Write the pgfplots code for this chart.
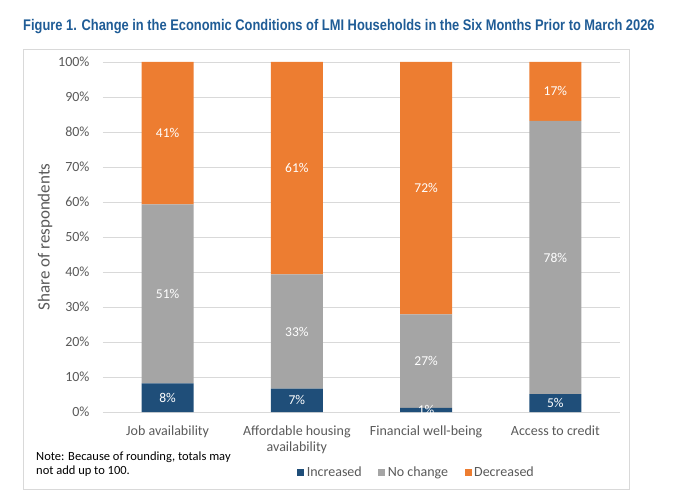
\documentclass[border=0pt]{standalone}
\usepackage{pgfplots}
\pgfplotsset{compat=1.18}
\usepackage{pgfplotstable}
\usepackage{fontspec}
\setmainfont{Carlito}
\newfontfamily\titlefont[FakeStretch=0.836]{Liberation Sans}

\definecolor{cblue}{HTML}{1F4E79}
\definecolor{cgray}{HTML}{A5A5A5}
\definecolor{corange}{HTML}{ED7D31}
\definecolor{ctitle}{HTML}{1F5C96}
\definecolor{ctext}{HTML}{595959}
\definecolor{cgrid}{HTML}{D9D9D9}

% heights
\pgfplotstableread{
x inc nc dec
0 8.2 51.1 40.7
1 6.7 32.6 60.7
2 1.2 26.7 72.1
3 5.1 78.1 16.8
}\data

% label positions (middle of each segment) and printed values
\pgfplotstableread{
x y lab
0 4.1 8
0 33.75 51
0 79.65 41
1 3.35 7
1 23.0 33
1 69.65 61
2 0.6 1
2 14.55 27
2 63.95 72
3 2.55 5
3 44.15 78
3 91.6 17
}\labels

\pgfplotsset{
  base/.style={
    scale only axis,
    width=517pt, height=350pt,
    xmin=-0.5, xmax=3.5,
    ymin=0, ymax=100,
  }
}

\begin{document}
\begin{tikzpicture}
\path[use as bounding box] (-103pt,-84pt) rectangle (577pt,412pt);
\draw[cgrid, line width=0.8pt] (-80pt,-77pt) rectangle (526pt,363pt);
\node[anchor=base west, inner sep=0pt, text=ctitle, font=\titlefont\bfseries\fontsize{15.4}{18}\selectfont]
  at (-80pt,381.3pt) {Figure 1. Change in the Economic Conditions of LMI Households in the Six Months Prior to March 2026};
\node[anchor=base west, inner sep=0pt, align=left, font=\fontsize{12.5}{14.5}\selectfont]
  at (-67pt,-62.5pt) {Note: Because of rounding, totals may\\not add up to 100.};
\begin{axis}[
  base,
  ybar stacked,
  bar width=52pt,
  xtick={0,1,2,3},
  xticklabels={Job availability,{Affordable housing\\availability},Financial well-being,Access to credit},
  ytick={0,10,...,100},
  yticklabel={\pgfmathprintnumber{\tick}\%},
  /pgf/number format/assume math mode=true,
  major tick length=0pt,
  axis line style={draw=none},
  ymajorgrids,
  grid style={cgrid, line width=0.8pt},
  tick label style={text=ctext, font=\fontsize{14}{16}\selectfont},
  xticklabel style={align=center, yshift=-10pt},
  yticklabel style={xshift=-10pt},
  ylabel={Share of respondents},
  every axis y label/.style={at={(axis description cs:-0.112,0.5)}, rotate=90, anchor=center,
    text=ctext, font=\fontsize{17}{20}\selectfont},
  legend columns=3,
  legend style={draw=none, at={(0.607,-0.173)}, anchor=center,
    font=\fontsize{14}{16}\selectfont, text=ctext,
    nodes={inner xsep=2.5pt},
    /tikz/every even column/.append style={column sep=14pt}},
  legend image code/.code={\fill[#1] (0pt,-3.5pt) rectangle (7pt,3.5pt);},
]
\addplot[fill=cblue, draw=none] table[x=x, y=inc] {\data};
\addplot[fill=cgray, draw=none] table[x=x, y=nc] {\data};
\addplot[fill=corange, draw=none] table[x=x, y=dec] {\data};
\legend{Increased, No change, Decreased}
\end{axis}
\begin{axis}[base, hide axis]
\addplot[only marks, mark=*, mark size=0pt, mark options={draw=none, fill=none},
  point meta=explicit symbolic,
  nodes near coords={\pgfplotspointmeta\%},
  every node near coord/.style={anchor=center, text=white, font=\fontsize{13.5}{16}\selectfont}]
  table[x=x, y=y, meta=lab] {\labels};
\end{axis}
\end{tikzpicture}
\end{document}
